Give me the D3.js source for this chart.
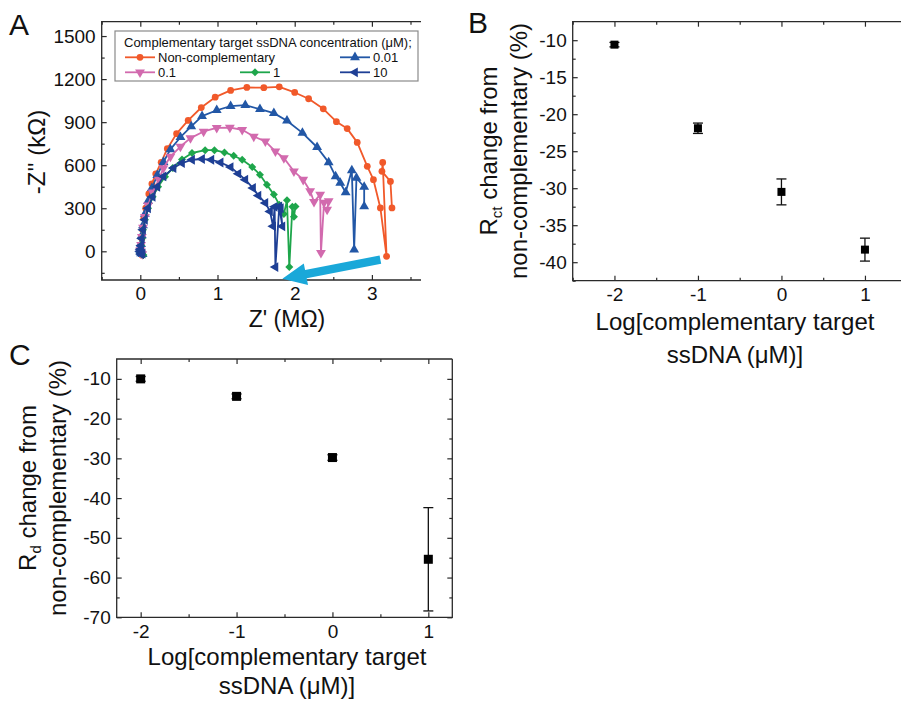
<!DOCTYPE html>
<html>
<head>
<meta charset="utf-8">
<script src="https://cdn.jsdelivr.net/npm/d3@7"></script>
<style>
body { margin: 0; background: #fff; }
svg { font-family: "Liberation Sans", Arial, sans-serif; }
</style>
</head>
<body>
<svg id="fig" width="901" height="702"></svg>
<script>
// ---- panel A : Nyquist plots, [Z' (MOhm), -Z'' (kOhm)]
const nonComp = [[0.02,-25],[0.0,-10],[0.01,5],[0.0,0],[0.01,40],[0.02,90],[0.03,150],[0.045,230],[0.07,300],[0.11,400],[0.15,470],[0.2,540],
	[0.27,620],[0.35,715],[0.47,820],[0.62,912],[0.79,1002],[0.97,1074],[1.17,1121],[1.38,1142],[1.6,1140],
	[1.8,1146],[2.0,1107],[2.18,1063],[2.37,993],[2.54,903],[2.68,855],[2.81,759],[2.94,592],[3.02,499],
	[3.11,302],[3.19,-35],[3.14,619],[3.13,557],[3.24,487],[3.26,302]];
const conc001 = [[0.03,-20],[0.01,-15],[0.0,10],[0.0,0],[0.01,50],[0.02,110],[0.035,180],[0.06,260],[0.1,350],[0.15,440],[0.22,530],[0.3,622],
	[0.39,710],[0.52,795],[0.66,870],[0.8,942],[0.99,983],[1.17,1012],[1.36,1018],[1.55,990],[1.73,963],
	[1.9,910],[2.1,825],[2.29,725],[2.44,620],[2.53,522],[2.59,476],[2.66,411],[2.74,564],[2.77,12],
	[2.8,511],[2.9,448],[2.9,313]];
const conc01 = [[0.025,-20],[0.005,-12],[0.0,8],[0.0,0],[0.01,45],[0.02,100],[0.035,165],[0.06,240],[0.1,320],[0.16,410],[0.24,500],[0.3,580],
	[0.39,660],[0.52,730],[0.65,789],[0.82,835],[0.99,860],[1.16,862],[1.32,847],[1.47,800],[1.62,766],
	[1.75,696],[1.86,650],[1.99,557],[2.11,499],[2.2,420],[2.25,345],[2.33,395],[2.34,-11],[2.38,340],
	[2.44,350],[2.42,290]];
const conc1 = [[0.04,-25],[0.02,-20],[0.0,-5],[0.0,0],[0.01,40],[0.02,90],[0.035,150],[0.06,220],[0.1,300],[0.16,380],[0.23,450],[0.32,520],
	[0.42,580],[0.54,640],[0.67,685],[0.84,705],[0.96,705],[1.09,689],[1.21,666],[1.32,638],[1.45,587],
	[1.55,534],[1.64,464],[1.73,395],[1.8,325],[1.86,260],[1.9,355],[1.93,-110],[1.97,310],[1.99,240],[2.01,313]];
const conc10 = [[0.03,-15],[0.01,-20],[-0.005,0],[0.0,15],[0.01,40],[0.02,90],[0.035,150],[0.06,220],[0.1,300],[0.16,380],[0.22,450],[0.3,522],
	[0.43,580],[0.54,615],[0.67,638],[0.8,643],[0.92,638],[1.04,619],[1.17,587],[1.27,541],[1.36,499],
	[1.46,441],[1.53,388],[1.62,337],[1.68,278],[1.72,174],[1.74,310],[1.75,-110],[1.8,313],[1.84,174],[1.82,300]];

const seriesNames = ["Non-complementary", "0.01", "0.1", "1", "10"];
const seriesColors = ["#f1592a", "#2257a6", "#d26aae", "#1ea64b", "#1e3f95"];

const zReTicks = [0, 1, 2, 3];
const zImTicks = [0, 300, 600, 900, 1200, 1500];

// ---- panels B and C
const logConc = [-2, -1, 0, 1];
const rctChange = [-10.6, -21.9, -30.5, -38.3];
const rctErr = [0.3, 0.7, 1.75, 1.55];
const rdChange = [-10.0, -14.4, -29.8, -55.4];
const rdErr = [0.6, 0.6, 0.7, 13.0];

const rctTicks = [-10, -15, -20, -25, -30, -35, -40];
const rdTicks = [-10, -20, -30, -40, -50, -60, -70];

const svg = d3.select("#fig");
const axisColor = "#2a2a2a";

function fmt(d) { return String(d); }

// inward ticks on the four sides, frame drawn separately
function axes(g, x, y, o) {
	const [x0, x1] = x.range();
	const [yb, yt] = y.range();
	const xr = o.xMax !== undefined ? o.xMax : x1;

	g.append("g").attr("transform", `translate(0,${yb})`)
		.call(d3.axisBottom(x).tickValues(o.xt).tickSize(-5).tickPadding(o.xPad).tickFormat(fmt));
	g.append("g").attr("transform", `translate(0,${yb})`)
		.call(d3.axisBottom(x).tickValues(o.xm).tickSize(-3).tickFormat(""));
	g.append("g").attr("transform", `translate(0,${yt})`)
		.call(d3.axisTop(x).tickValues(o.xt).tickSize(-5).tickFormat(""));
	g.append("g").attr("transform", `translate(0,${yt})`)
		.call(d3.axisTop(x).tickValues(o.xm).tickSize(-3).tickFormat(""));

	g.append("g").attr("transform", `translate(${x0},0)`)
		.call(d3.axisLeft(y).tickValues(o.yt).tickSize(-5).tickPadding(6).tickFormat(fmt));
	g.append("g").attr("transform", `translate(${x0},0)`)
		.call(d3.axisLeft(y).tickValues(o.ym).tickSize(-3).tickFormat(""));
	if (o.right) {
		g.append("g").attr("transform", `translate(${x1},0)`)
			.call(d3.axisRight(y).tickValues(o.yt).tickSize(-5).tickFormat(""));
		g.append("g").attr("transform", `translate(${x1},0)`)
			.call(d3.axisRight(y).tickValues(o.ym).tickSize(-3).tickFormat(""));
	}

	g.selectAll(".domain").remove();
	g.selectAll(".tick line").attr("stroke", axisColor).attr("stroke-width", 1.2);
	g.selectAll(".tick text").attr("font-size", o.fs).attr("fill", "#111")
		.attr("font-family", "Liberation Sans, Arial, sans-serif");

	// frame
	let p = `M${xr},${yt}H${x0}V${yb}H${xr}`;
	if (o.right) p += `V${yt}`;
	g.append("path").attr("d", p).attr("fill", "none")
		.attr("stroke", axisColor).attr("stroke-width", 1.3);
}

function rotTitle(g, bx, cy, parts, fs) {
	const t = g.append("text").attr("transform", `translate(${bx},${cy}) rotate(-90)`)
		.attr("text-anchor", "middle").attr("font-size", fs).attr("fill", "#111");
	parts.forEach((p) => {
		t.append("tspan").text(p.t).attr("dy", p.dy || 0).attr("font-size", p.fs || fs);
	});
}

// ================= Panel A
{
	const g = svg.append("g");
	const x = d3.scaleLinear().domain([-0.5, 4.0]).range([101.7, 101.7 + 4.5 * 77.2]);
	const y = d3.scaleLinear().domain([-200, 1600]).range([280, 21.7]);

	axes(g, x, y, {
		xt: zReTicks, xm: [-0.5, 0.5, 1.5, 2.5, 3.5], yt: zImTicks,
		ym: [-150, 150, 450, 750, 1050, 1350], fs: 19, xPad: 7, xMax: 421, right: false
	});

	const data = [nonComp, conc001, conc01, conc1, conc10];
	const shapes = [
		{ type: d3.symbolCircle, size: 36, rot: 0 },
		{ type: d3.symbolTriangle, size: 42, rot: 0 },
		{ type: d3.symbolTriangle, size: 42, rot: 180 },
		{ type: d3.symbolSquare, size: 32, rot: 45 },
		{ type: d3.symbolTriangle, size: 42, rot: -90 }
	];

	const line = d3.line().x((d) => x(d[0])).y((d) => y(d[1]));

	data.forEach((ser, i) => {
		g.append("path").datum(ser)
			.attr("fill", "none")
			.attr("stroke", seriesColors[i])
			.attr("stroke-width", 1.8)
			.attr("stroke-linejoin", "round")
			.attr("d", line);
		g.selectAll(null).data(ser).enter().append("path")
			.attr("d", d3.symbol().type(shapes[i].type).size(shapes[i].size))
			.attr("transform", (d) => `translate(${x(d[0])},${y(d[1])}) rotate(${shapes[i].rot})`)
			.attr("fill", seriesColors[i]);
	});

	// arrow (cyan)
	const tail = [x(3.11), y(-58)];
	const tip = [x(1.84), y(-192)];
	const dx = tip[0] - tail[0], dy = tip[1] - tail[1];
	const L = Math.hypot(dx, dy), ux = dx / L, uy = dy / L, nx = -uy, ny = ux;
	const hl = 24, hw = 11, sw = 4.2;
	const bx = tip[0] - ux * hl, by = tip[1] - uy * hl;
	const pts = [
		[tail[0] + nx * sw, tail[1] + ny * sw], [bx + nx * sw, by + ny * sw], [bx + nx * hw, by + ny * hw],
		tip, [bx - nx * hw, by - ny * hw], [bx - nx * sw, by - ny * sw], [tail[0] - nx * sw, tail[1] - ny * sw]
	];
	g.append("polygon").attr("points", pts.map((p) => p.join(",")).join(" ")).attr("fill", "#1aa8d9");

	// legend
	const lg = g.append("g");
	lg.append("rect").attr("x", 115).attr("y", 31).attr("width", 303).attr("height", 50)
		.attr("fill", "#fff").attr("stroke", "#8a8a8a").attr("stroke-width", 1.2);
	lg.append("text").attr("x", 124).attr("y", 46.5).attr("font-size", 13).attr("fill", "#111")
		.text("Complementary target ssDNA concentration (μM);");
	const legPos = [[125, 57.3], [340, 57.3], [125, 72.3], [240, 72.3], [340, 72.3]];
	seriesNames.forEach((nm, i) => {
		const [lx, ly] = legPos[i];
		lg.append("line").attr("x1", lx).attr("x2", lx + 30).attr("y1", ly).attr("y2", ly)
			.attr("stroke", seriesColors[i]).attr("stroke-width", 1.8);
		lg.append("path").attr("d", d3.symbol().type(shapes[i].type).size(shapes[i].size))
			.attr("transform", `translate(${lx + 15},${ly}) rotate(${shapes[i].rot})`)
			.attr("fill", seriesColors[i]);
		lg.append("text").attr("x", lx + 33).attr("y", ly + 4.6).attr("font-size", 13).attr("fill", "#111").text(nm);
	});

	g.append("text").attr("x", 287).attr("y", 327).attr("text-anchor", "middle")
		.attr("font-size", 23).attr("fill", "#111").text("Z' (MΩ)");
	rotTitle(g, 45, 152, [{ t: "-Z'' (kΩ)" }], 24);

	g.append("text").attr("x", 9).attr("y", 35).attr("font-size", 30).attr("fill", "#111").text("A");
}

// ================= Panel B
{
	const g = svg.append("g");
	const x = d3.scaleLinear().domain([-2.5, 1.5]).range([572.7, 572.7 + 4 * 83.5]);
	const y = d3.scaleLinear().domain([-42.5, -7.5]).range([280.7, 21.7]);

	axes(g, x, y, {
		xt: logConc, xm: [-2.5, -1.5, -0.5, 0.5, 1.5], yt: rctTicks,
		ym: [-12.5, -17.5, -22.5, -27.5, -32.5, -37.5, -42.5], fs: 19, xPad: 6.5, right: true
	});

	logConc.forEach((c, i) => {
		const cx = x(c), v = rctChange[i], e = rctErr[i];
		g.append("line").attr("x1", cx).attr("x2", cx).attr("y1", y(v - e)).attr("y2", y(v + e))
			.attr("stroke", "#111").attr("stroke-width", 1.3);
		[v - e, v + e].forEach((yy) => {
			g.append("line").attr("x1", cx - 5).attr("x2", cx + 5).attr("y1", y(yy)).attr("y2", y(yy))
				.attr("stroke", "#111").attr("stroke-width", 1.3);
		});
		g.append("rect").attr("x", cx - 4).attr("y", y(v) - 4).attr("width", 8).attr("height", 8).attr("fill", "#000");
	});

	g.append("text").attr("x", 735).attr("y", 330).attr("text-anchor", "middle")
		.attr("font-size", 24).attr("fill", "#111").text("Log[complementary target");
	g.append("text").attr("x", 735).attr("y", 363).attr("text-anchor", "middle")
		.attr("font-size", 24).attr("fill", "#111").text("ssDNA (μM)]");
	rotTitle(g, 497, 151, [{ t: "R" }, { t: "ct", fs: 15, dy: 5 }, { t: " change from", dy: -5 }], 24);
	rotTitle(g, 527, 151, [{ t: "non-complementary (%)" }], 24);

	g.append("text").attr("x", 468).attr("y", 33).attr("font-size", 30).attr("fill", "#111").text("B");
}

// ================= Panel C
{
	const g = svg.append("g");
	const x = d3.scaleLinear().domain([-2.25, 1.25]).range([116.7, 452.3]);
	const y = d3.scaleLinear().domain([-70, -5]).range([617.3, 359]);

	axes(g, x, y, {
		xt: logConc, xm: [-1.5, -0.5, 0.5], yt: rdTicks,
		ym: [-15, -25, -35, -45, -55, -65], fs: 19, xPad: 7, right: true
	});

	logConc.forEach((c, i) => {
		const cx = x(c), v = rdChange[i], e = rdErr[i];
		g.append("line").attr("x1", cx).attr("x2", cx).attr("y1", y(v - e)).attr("y2", y(v + e))
			.attr("stroke", "#111").attr("stroke-width", 1.3);
		[v - e, v + e].forEach((yy) => {
			g.append("line").attr("x1", cx - 5).attr("x2", cx + 5).attr("y1", y(yy)).attr("y2", y(yy))
				.attr("stroke", "#111").attr("stroke-width", 1.3);
		});
		g.append("rect").attr("x", cx - 4.5).attr("y", y(v) - 4.5).attr("width", 9).attr("height", 9).attr("fill", "#000");
	});

	g.append("text").attr("x", 287).attr("y", 665).attr("text-anchor", "middle")
		.attr("font-size", 24).attr("fill", "#111").text("Log[complementary target");
	g.append("text").attr("x", 287).attr("y", 694).attr("text-anchor", "middle")
		.attr("font-size", 24).attr("fill", "#111").text("ssDNA (μM)]");
	rotTitle(g, 36, 488, [{ t: "R" }, { t: "d", fs: 15, dy: 5 }, { t: " change from", dy: -5 }], 24);
	rotTitle(g, 66, 488, [{ t: "non-complementary (%)" }], 24);

	g.append("text").attr("x", 9).attr("y", 365).attr("font-size", 30).attr("fill", "#111").text("C");
}
</script>
</body>
</html>
